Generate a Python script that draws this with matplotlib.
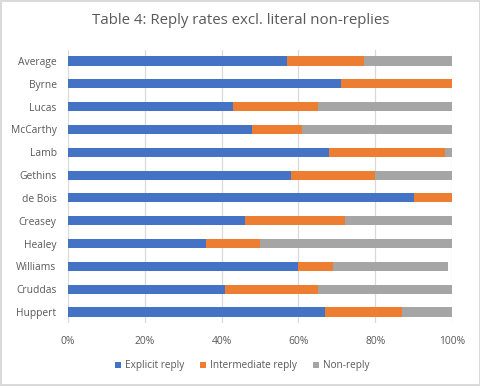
import matplotlib.pyplot as plt
import matplotlib as mpl
import numpy as np

mpl.rcParams['font.family'] = ['Open Sans', 'DejaVu Sans']

names = ['Average', 'Byrne', 'Lucas', 'McCarthy', 'Lamb', 'Gethins', 'de Bois',
         'Creasey', 'Healey', 'Williams', 'Cruddas', 'Huppert']
explicit = [57, 71, 43, 48, 68, 58, 90, 46, 36, 60, 41, 67]
intermediate = [20, 29, 22, 13, 30, 22, 10, 26, 14, 9, 24, 20]
nonreply = [23, 0, 35, 39, 2, 20, 0, 28, 50, 30, 35, 13]

series = [('Explicit reply', explicit, '#4472C4'),
          ('Intermediate reply', intermediate, '#ED7D31'),
          ('Non-reply', nonreply, '#A5A5A5')]

fig = plt.figure(figsize=(4.81, 3.86), dpi=100)
fig.patch.set_edgecolor('#d9d9d9')
fig.patch.set_linewidth(1.5)
ax = fig.add_axes([0.1407, 0.1622, 0.7996, 0.7093])

y = np.arange(len(names))
left = np.zeros(len(names))
for label, vals, col in series:
    vals = np.array(vals, dtype=float)
    ax.barh(y, vals, left=left, height=0.4, color=col, label=label, zorder=3)
    left += vals

ax.set_ylim(len(names) - 0.5, -0.5)
ax.set_xlim(0, 100)
ax.set_yticks(y)
ax.set_yticklabels(names)
ax.set_xticks(range(0, 101, 20))
ax.set_xticklabels([f'{v}%' for v in range(0, 101, 20)])
ax.grid(axis='x', color='#d9d9d9', linewidth=0.9, zorder=0)
for s in ax.spines.values():
    s.set_visible(False)
ax.tick_params(length=0, labelsize=7.4, colors='#595959', pad=8)
ax.tick_params(axis='x', pad=9)

fig.text(0.5, 0.947, 'Table 4: Reply rates excl. literal non-replies',
         ha='center', va='center', fontsize=10.8, color='#595959')

leg = fig.legend(loc='center', bbox_to_anchor=(0.503, 0.052), ncol=3, frameon=False,
                 fontsize=7.2, handlelength=0.6, handleheight=0.6, handletextpad=0.4,
                 columnspacing=1.6, labelcolor='#595959')

fig.savefig('out.png', dpi=100)
